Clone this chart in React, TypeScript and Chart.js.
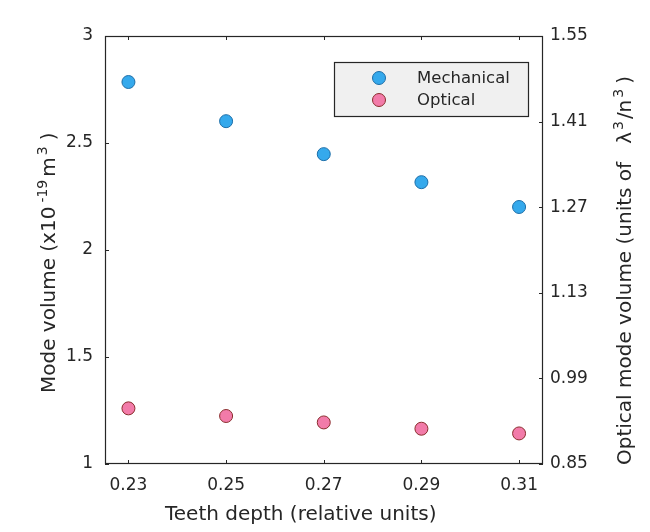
import React, { useEffect, useRef } from "react";
import { Chart, registerables } from "chart.js";

Chart.register(...registerables);

const depth = [0.23, 0.25, 0.27, 0.29, 0.31];
const mechanical = [2.785, 2.602, 2.448, 2.317, 2.201];
const optical = [0.941, 0.9285, 0.918, 0.9077, 0.9];
const xTicks = [0.23, 0.25, 0.27, 0.29, 0.31];
const leftTicks = [1, 1.5, 2, 2.5, 3];
const rightTicks = [0.85, 0.99, 1.13, 1.27, 1.41, 1.55];
const seriesNames = ["Mechanical", "Optical"];
const xTitle = "Teeth depth (relative units)";
const leftTitle = "Mode volume (x10\u207B\u00B9\u2079 m\u00B3)";
const rightTitle = "Optical mode volume (units of \u03BB\u00B3/n\u00B3)";

// title pieces: [text, isSuperscript, gapBefore]
const leftTitleParts: [string, boolean, number][] = [
  ["Mode volume (x10", false, 0],
  ["-19", true, 4],
  ["m", false, 3],
  ["3", true, 2],
  [")", false, 6],
];
const rightTitleParts: [string, boolean, number][] = [
  ["Optical mode volume (units of", false, 0],
  ["\u03BB", false, 18],
  ["3", true, 2],
  ["/n", false, 2],
  ["3", true, 2],
  [")", false, 5],
];
const xTitleParts: [string, boolean, number][] = [[xTitle, false, 0]];

const FONT = "'DejaVu Sans', 'Liberation Sans', Arial, sans-serif";
const INK = "#262626";

function drawParts(ctx: any, parts: [string, boolean, number][], x: number, y: number, rot: number) {
  ctx.save();
  ctx.translate(x, y);
  ctx.rotate(rot);
  ctx.fillStyle = INK;
  ctx.textAlign = "left";
  ctx.textBaseline = "alphabetic";
  let cx = 0;
  parts.forEach(([t, sup, gap]) => {
    cx += gap;
    ctx.font = sup ? `14px ${FONT}` : `20px ${FONT}`;
    ctx.fillText(t, cx, sup ? -8 : 0);
    cx += ctx.measureText(t).width;
  });
  ctx.restore();
}

const frameAndTicks = {
  id: "frameAndTicks",
  afterDraw(chart: any) {
    const ctx = chart.ctx;
    const { left, right, top, bottom } = chart.chartArea;
    ctx.save();
    ctx.strokeStyle = INK;
    ctx.lineWidth = 1.2;
    ctx.strokeRect(left + 0.5, top + 0.5, right - left - 1, bottom - top - 1);
    ctx.lineWidth = 1;
    const tl = 4;
    const xs = chart.scales.x;
    xs.ticks.forEach((t: any) => {
      const p = Math.round(xs.getPixelForValue(t.value)) + 0.5;
      ctx.beginPath();
      ctx.moveTo(p, bottom);
      ctx.lineTo(p, bottom - tl);
      ctx.moveTo(p, top);
      ctx.lineTo(p, top + tl);
      ctx.stroke();
    });
    const yl = chart.scales.y;
    yl.ticks.forEach((t: any) => {
      const p = Math.round(yl.getPixelForValue(t.value)) + 0.5;
      ctx.beginPath();
      ctx.moveTo(left, p);
      ctx.lineTo(left + tl, p);
      ctx.stroke();
    });
    const yr = chart.scales.y2;
    yr.ticks.forEach((t: any) => {
      const p = Math.round(yr.getPixelForValue(t.value)) + 0.5;
      ctx.beginPath();
      ctx.moveTo(right, p);
      ctx.lineTo(right - tl, p);
      ctx.stroke();
    });
    ctx.restore();
    // axis titles (with superscripts)
    drawParts(ctx, xTitleParts, 165, 520, 0);
    drawParts(ctx, leftTitleParts, 55, 393, -Math.PI / 2);
    drawParts(ctx, rightTitleParts, 631, 465, -Math.PI / 2);
  },
};

const boxLegend = {
  id: "boxLegend",
  afterDraw(chart: any) {
    const ctx = chart.ctx;
    ctx.save();
    const bx = 334, by = 62, bw = 194, bh = 54;
    ctx.fillStyle = "#f0f0f0";
    ctx.fillRect(bx, by, bw, bh);
    ctx.strokeStyle = INK;
    ctx.lineWidth = 1.2;
    ctx.strokeRect(bx + 0.5, by + 0.5, bw, bh);
    chart.data.datasets.forEach((ds: any, i: number) => {
      const cy = 78 + i * 22;
      ctx.beginPath();
      ctx.arc(379, cy, 6.5, 0, Math.PI * 2);
      ctx.fillStyle = ds.backgroundColor;
      ctx.fill();
      ctx.lineWidth = 1;
      ctx.strokeStyle = ds.borderColor;
      ctx.stroke();
      ctx.fillStyle = INK;
      ctx.font = `16.5px ${FONT}`;
      ctx.textAlign = "left";
      ctx.textBaseline = "middle";
      ctx.fillText(ds.label, 417, cy + 1);
    });
    ctx.restore();
  },
};

export default function App() {
  const ref = useRef<HTMLCanvasElement | null>(null);
  useEffect(() => {
    document.body.style.margin = "0";
    if (!ref.current) return;
    const fmt = (v: any) => String(+Number(v).toFixed(2));
    const chart = new Chart(ref.current, {
      type: "scatter",
      data: {
        datasets: [
          {
            label: seriesNames[0],
            data: depth.map((d, i) => ({ x: d, y: mechanical[i] })),
            backgroundColor: "#35a9ec",
            borderColor: "#1d6ea8",
            borderWidth: 1,
            pointRadius: 6.5,
            yAxisID: "y",
          },
          {
            label: seriesNames[1],
            data: depth.map((d, i) => ({ x: d, y: optical[i] })),
            backgroundColor: "#f27ba9",
            borderColor: "#8a2d2d",
            borderWidth: 1,
            pointRadius: 6.5,
            yAxisID: "y2",
          },
        ],
      },
      options: {
        animation: false,
        responsive: false,
        devicePixelRatio: 1,
        layout: { padding: { top: 36, left: 0, right: 0, bottom: 0 } },
        plugins: { legend: { display: false }, tooltip: { enabled: false } },
        scales: {
          x: {
            type: "linear",
            min: 0.2252,
            max: 0.3149,
            afterBuildTicks: (s: any) => { s.ticks = xTicks.map((v) => ({ value: v })); },
            afterFit: (s: any) => { s.height = 68; },
            grid: { display: false, drawTicks: false },
            border: { display: false },
            ticks: { color: INK, font: { family: FONT, size: 17 }, padding: 11, callback: fmt, maxRotation: 0 },
            title: { display: false, text: xTitle, color: INK, font: { family: FONT, size: 20 } },
          },
          y: {
            type: "linear",
            position: "left",
            min: 1,
            max: 3,
            afterBuildTicks: (s: any) => { s.ticks = leftTicks.map((v) => ({ value: v })); },
            afterFit: (s: any) => { s.width = 105; },
            grid: { display: false, drawTicks: false },
            border: { display: false },
            ticks: { color: INK, font: { family: FONT, size: 17 }, padding: 12, callback: fmt },
            title: { display: false, text: leftTitle, color: INK, font: { family: FONT, size: 20 } },
          },
          y2: {
            type: "linear",
            position: "right",
            min: 0.85,
            max: 1.55,
            afterBuildTicks: (s: any) => { s.ticks = rightTicks.map((v) => ({ value: v })); },
            afterFit: (s: any) => { s.width = 107; },
            grid: { display: false, drawTicks: false },
            border: { display: false },
            ticks: { color: INK, font: { family: FONT, size: 17 }, padding: 7, callback: fmt },
            title: { display: false, text: rightTitle, color: INK, font: { family: FONT, size: 20 } },
          },
        },
      } as any,
      plugins: [frameAndTicks, boxLegend],
    });
    return () => chart.destroy();
  }, []);
  return (
    <div style={{ width: 650, height: 532 }}>
      <canvas ref={ref} width={650} height={532} style={{ display: "block" }} />
    </div>
  );
}
